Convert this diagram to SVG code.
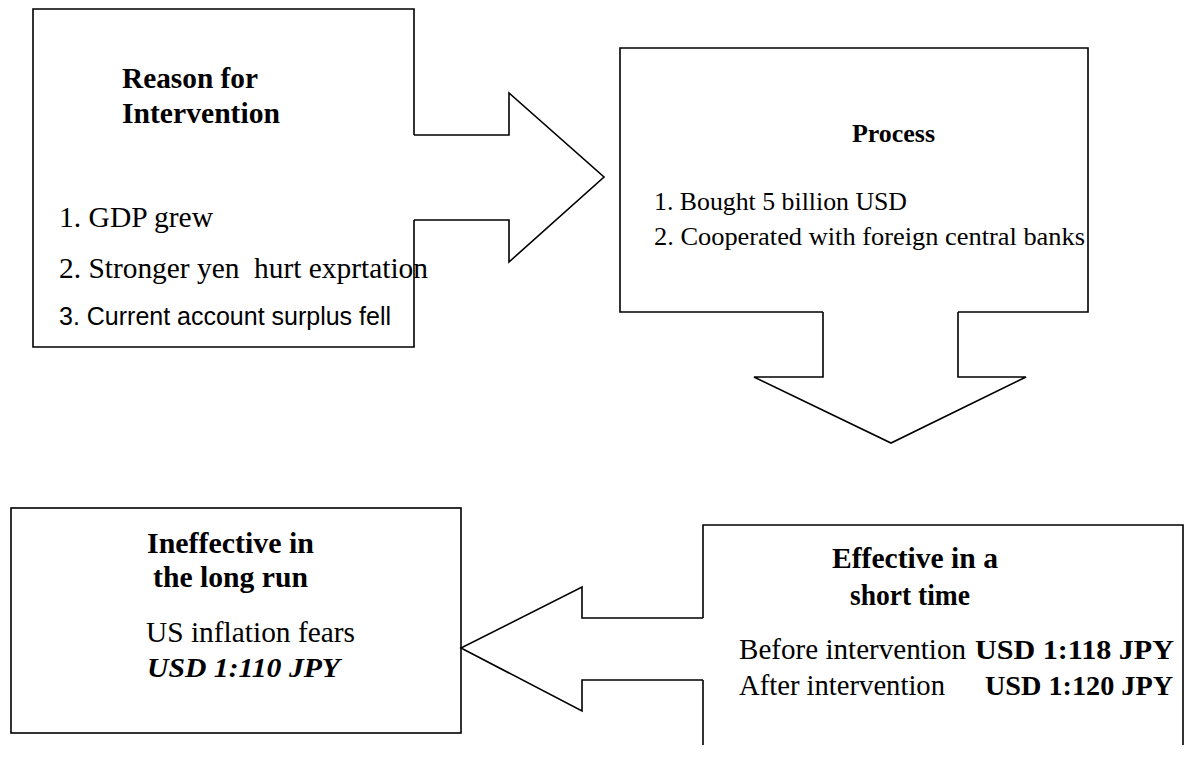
<svg xmlns="http://www.w3.org/2000/svg" width="1190" height="770" viewBox="0 0 1190 770">
<style>
.ln{fill:none;stroke:#000;stroke-width:1.6;stroke-linejoin:miter}
.t{font-family:"Liberation Serif","Times New Roman",serif;fill:#000}
.b{font-weight:bold}
.s{font-family:"Liberation Sans",Arial,sans-serif;fill:#000}
</style>
<rect width="1190" height="770" fill="#fff"/>
<g id="connectors">
<path class="ln" d="M414,135 H509 V93 L604,177 L509,262 V220 H414"/>
<path class="ln" d="M823,312 V377 H754 L891,443 L1026,377 H958 V312"/>
<path class="ln" d="M703,618 H582 V587 L461,648 L582,711 V680 H703"/>
</g>
<g id="node-reason">
<path class="ln" d="M414,135 V9 H33 V347 H414 V220"/>
<text class="t b" x="122" y="88" font-size="29" textLength="136" lengthAdjust="spacingAndGlyphs">Reason for</text>
<text class="t b" x="122" y="123" font-size="29" textLength="158" lengthAdjust="spacingAndGlyphs">Intervention</text>
<text class="t" x="59" y="227" font-size="29" textLength="154" lengthAdjust="spacingAndGlyphs">1. GDP grew</text>
<text class="t" x="59" y="278" font-size="29" xml:space="preserve" textLength="369" lengthAdjust="spacingAndGlyphs">2. Stronger yen  hurt exprtation</text>
<text class="s" x="59" y="325" font-size="25" textLength="332" lengthAdjust="spacingAndGlyphs">3. Current account surplus fell</text>
</g>
<g id="node-process">
<path class="ln" d="M823,312 H620 V48 H1088 V312 H958"/>
<text class="t b" x="852" y="142" font-size="26" textLength="83" lengthAdjust="spacingAndGlyphs">Process</text>
<text class="t" x="654" y="210" font-size="26" textLength="253" lengthAdjust="spacingAndGlyphs">1. Bought 5 billion USD</text>
<text class="t" x="654" y="245" font-size="26" textLength="431" lengthAdjust="spacingAndGlyphs">2. Cooperated with foreign central banks</text>
</g>
<g id="node-ineffective">
<rect class="ln" x="11" y="508" width="450" height="225"/>
<text class="t b" x="147" y="553" font-size="29" textLength="167" lengthAdjust="spacingAndGlyphs">Ineffective in</text>
<text class="t b" x="153" y="587" font-size="29" textLength="155" lengthAdjust="spacingAndGlyphs">the long run</text>
<text class="t" x="146" y="642" font-size="29" textLength="209" lengthAdjust="spacingAndGlyphs">US inflation fears</text>
<text class="t b" x="147" y="677" font-size="28" font-style="italic" textLength="193" lengthAdjust="spacingAndGlyphs">USD 1:110 JPY</text>
</g>
<g id="node-effective">
<path class="ln" d="M703,618 V525 H1183 V745 M703,680 V745"/>
<text class="t b" x="832" y="568" font-size="29" textLength="166" lengthAdjust="spacingAndGlyphs">Effective in a</text>
<text class="t b" x="850" y="605" font-size="29" textLength="120" lengthAdjust="spacingAndGlyphs">short time</text>
<text class="t" x="739" y="659" font-size="29" textLength="227" lengthAdjust="spacingAndGlyphs">Before intervention</text>
<text class="t b" x="975" y="659" font-size="27" textLength="199" lengthAdjust="spacingAndGlyphs">USD 1:118 JPY</text>
<text class="t" x="739" y="695" font-size="29" textLength="206" lengthAdjust="spacingAndGlyphs">After intervention</text>
<text class="t b" x="985" y="695" font-size="27" textLength="188" lengthAdjust="spacingAndGlyphs">USD 1:120 JPY</text>
</g>
</svg>
